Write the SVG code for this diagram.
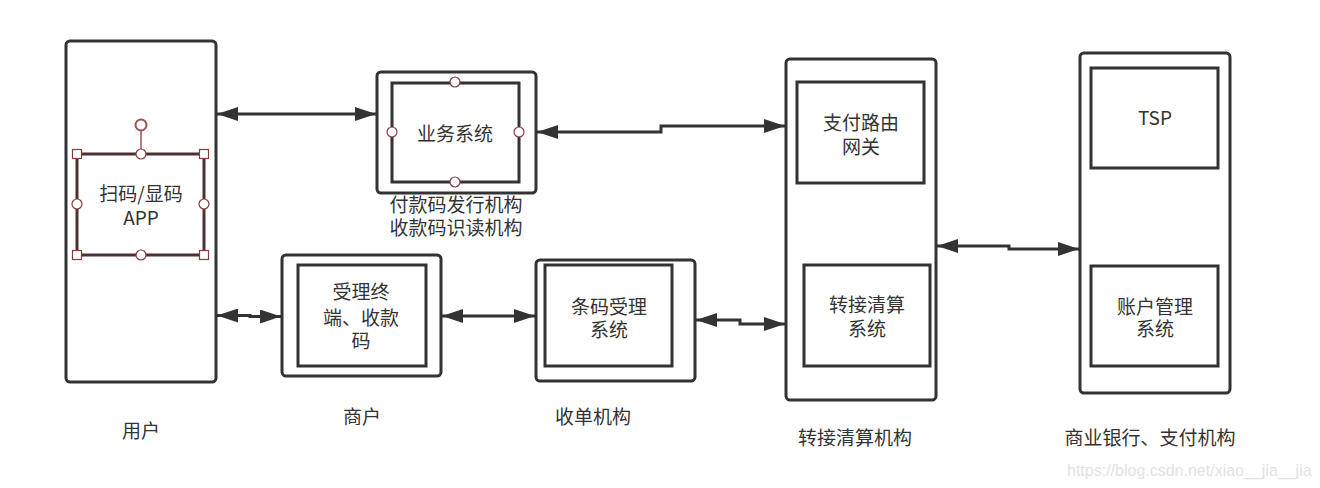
<svg xmlns="http://www.w3.org/2000/svg" width="1320" height="488" viewBox="0 0 1320 488">
  <style>
    .outer { fill: #ffffff; stroke: #333333; stroke-width: 3; }
    .inner { fill: #ffffff; stroke: #333333; stroke-width: 3; }
    .lbl { font-family: "Noto Sans CJK SC", "Noto Sans", sans-serif; font-size: 19px; fill: #333333; text-anchor: middle; }
    .wire { fill: none; stroke: #333333; stroke-width: 3; }
    .sel { fill: none; stroke: #4a3232; stroke-width: 3; }
    .handle { fill: #ffffff; stroke: #8b3a3a; stroke-width: 1.2; }
    .wm { font-family: "Liberation Sans", Arial, sans-serif; font-size: 16px; fill: #e2e2e2; }
  </style>
  <defs>
    <marker id="arrowEnd" viewBox="0 0 21 14" refX="21" refY="7" markerWidth="21" markerHeight="14" markerUnits="userSpaceOnUse" orient="auto">
      <path d="M0,0 L21,7 L0,14 Z" fill="#333333"/>
    </marker>
    <marker id="arrowStart" viewBox="0 0 21 14" refX="0" refY="7" markerWidth="21" markerHeight="14" markerUnits="userSpaceOnUse" orient="auto">
      <path d="M21,0 L0,7 L21,14 Z" fill="#333333"/>
    </marker>
  </defs>
  <rect width="1320" height="488" fill="#ffffff"/>

  <!-- connectors -->
  <g id="connectors">
    <path class="wire" d="M217,114 L376,114" marker-start="url(#arrowStart)" marker-end="url(#arrowEnd)"/>
    <path class="wire" d="M537,132 L661,132 L661,126 L785,126" marker-start="url(#arrowStart)" marker-end="url(#arrowEnd)"/>
    <path class="wire" d="M217,315.5 L250,315.5 L250,316.5 L281,316.5" marker-start="url(#arrowStart)" marker-end="url(#arrowEnd)"/>
    <path class="wire" d="M442,316 L535,316" marker-start="url(#arrowStart)" marker-end="url(#arrowEnd)"/>
    <path class="wire" d="M696,320 L740,320 L740,324 L785,324" marker-start="url(#arrowStart)" marker-end="url(#arrowEnd)"/>
    <path class="wire" d="M937,246 L1009,246 L1009,249 L1079,249" marker-start="url(#arrowStart)" marker-end="url(#arrowEnd)"/>
  </g>

  <!-- user -->
  <g id="user">
    <rect class="outer" x="66" y="41" width="150" height="341" rx="4"/>
    <text class="lbl" x="141" y="438">用户</text>
  </g>

  <!-- app inside user, shown selected -->
  <g id="app">
    <rect class="sel" x="77" y="154" width="127" height="101"/>
    <text class="lbl" x="141" y="201">扫码/显码</text>
    <text class="lbl" x="141" y="225">APP</text>
    <line x1="141" y1="131" x2="141" y2="150" stroke="#a05050" stroke-width="1.5"/>
    <circle cx="141" cy="125" r="5.5" fill="#ffffff" stroke="#a05050" stroke-width="2"/>
    <rect class="handle" x="72.5" y="149.5" width="9" height="9"/>
    <rect class="handle" x="199.5" y="149.5" width="9" height="9"/>
    <rect class="handle" x="72.5" y="250.5" width="9" height="9"/>
    <rect class="handle" x="199.5" y="250.5" width="9" height="9"/>
    <circle class="handle" cx="141" cy="154" r="5"/>
    <circle class="handle" cx="141" cy="255" r="5"/>
    <circle class="handle" cx="77" cy="204" r="5"/>
    <circle class="handle" cx="204" cy="204" r="5"/>
  </g>

  <!-- business system -->
  <g id="biz">
    <rect class="outer" x="377" y="72" width="159" height="121" rx="4"/>
    <rect class="inner" x="392" y="83" width="127" height="99"/>
    <text class="lbl" x="455" y="141">业务系统</text>
    <circle class="handle" cx="455" cy="82" r="5"/>
    <circle class="handle" cx="455" cy="182" r="5"/>
    <circle class="handle" cx="392" cy="132" r="5"/>
    <circle class="handle" cx="519" cy="132" r="5"/>
    <text class="lbl" x="456" y="212">付款码发行机构</text>
    <text class="lbl" x="456" y="235">收款码识读机构</text>
  </g>

  <!-- merchant -->
  <g id="merchant">
    <rect class="outer" x="282" y="255" width="159" height="121" rx="4"/>
    <rect class="inner" x="298" y="265" width="128" height="101"/>
    <text class="lbl" x="361" y="299">受理终</text>
    <text class="lbl" x="361" y="325">端、收款</text>
    <text class="lbl" x="361" y="348">码</text>
    <text class="lbl" x="362" y="424">商户</text>
  </g>

  <!-- acquirer -->
  <g id="acquirer">
    <rect class="outer" x="536" y="260" width="159" height="121" rx="4"/>
    <rect class="inner" x="545" y="265" width="127" height="101"/>
    <text class="lbl" x="609" y="314">条码受理</text>
    <text class="lbl" x="609" y="337">系统</text>
    <text class="lbl" x="593" y="424">收单机构</text>
  </g>

  <!-- switching and clearing -->
  <g id="switch">
    <rect class="outer" x="786" y="59" width="150" height="341" rx="4"/>
    <rect class="inner" x="797" y="82" width="127" height="101"/>
    <text class="lbl" x="861" y="130">支付路由</text>
    <text class="lbl" x="861" y="154">网关</text>
    <rect class="inner" x="804" y="265" width="126" height="101"/>
    <text class="lbl" x="867" y="312">转接清算</text>
    <text class="lbl" x="867" y="336">系统</text>
    <text class="lbl" x="855" y="445">转接清算机构</text>
  </g>

  <!-- banks and payment institutions -->
  <g id="bank">
    <rect class="outer" x="1080" y="53" width="150" height="340" rx="4"/>
    <rect class="inner" x="1091" y="68" width="127" height="100"/>
    <text class="lbl" x="1155" y="125">TSP</text>
    <rect class="inner" x="1091" y="266" width="127" height="100"/>
    <text class="lbl" x="1155" y="314">账户管理</text>
    <text class="lbl" x="1155" y="336">系统</text>
    <text class="lbl" x="1150" y="445">商业银行、支付机构</text>
  </g>

  <text class="wm" x="1067" y="476">https://blog.csdn.net/xiao__jia__jia</text>
</svg>
